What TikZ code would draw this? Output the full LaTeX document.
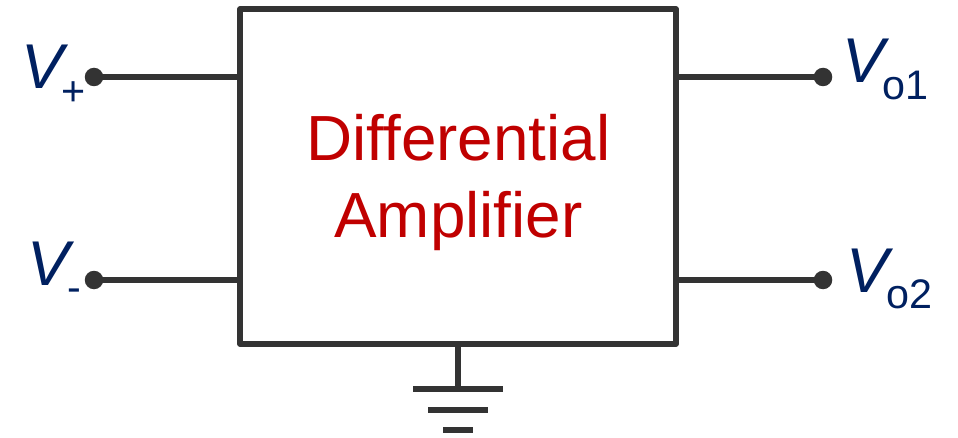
\documentclass[tikz,border=0pt]{standalone}
\usepackage{fontspec}
\setmainfont{Liberation Sans}
\usepackage{xcolor}
\usetikzlibrary{positioning,calc}
\definecolor{wirec}{HTML}{333333}
\definecolor{labelc}{HTML}{002060}
\definecolor{titlec}{HTML}{C00000}
\newcommand{\vlabel}[1]{\textit{V}\kern-3.7pt\raisebox{-9.5pt}{\fontsize{23.5}{24}\selectfont #1}}
\begin{document}
\begin{tikzpicture}[
  wire/.style={draw=wirec,line width=3.1pt},
  pin/.style={circle,fill=wirec,inner sep=0pt,minimum size=0.37cm},
  lab/.style={anchor=base west,inner sep=0pt,text=labelc,font=\fontsize{36}{36}\selectfont}]
  \useasboundingbox (0,0) rectangle (19.16,8.74);
  \node[wire,line join=round,minimum width=8.72cm,minimum height=6.7cm,inner sep=0pt](amp)at(9.16,5.21){};
  \node[align=center,inner sep=0pt,text=titlec,font=\fontsize{36.3}{43.7}\selectfont](title)at(9.17,5.09){Differential\\Amplifier};
  \node[pin](vp)at(1.88,7.2){};\node[pin](vm)at(1.88,3.14){};
  \node[pin](vo1)at(16.46,7.2){};\node[pin](vo2)at(16.46,3.14){};
  \draw[wire](vp.center)--($(vp-|amp.west)+(0.08,0)$);\draw[wire](vm.center)--($(vm-|amp.west)+(0.08,0)$);
  \draw[wire](amp.east|-vo1)--(vo1.center);\draw[wire](amp.east|-vo2)--(vo2.center);
  \node[lab](lp)at(0.42,6.96){\vlabel{+}};
  \node[lab](lm)at(0.54,3.04){\vlabel{-}};
  \node[lab](lo1)at(16.84,7.08){\vlabel{o1}};
  \node[lab](lo2)at(16.92,2.9){\vlabel{o2}};
  % ground
  \coordinate(g0)at(9.16,0.96);
  \draw[wire](amp.south)--(g0);
  \coordinate(g1a)at(8.26,0.96);\coordinate(g1b)at(10.06,0.96);
  \coordinate(g2a)at(8.56,0.54);\coordinate(g2b)at(9.76,0.54);
  \coordinate(g3a)at(8.86,0.14);\coordinate(g3b)at(9.46,0.14);
  \draw[wire](g1a)--(g1b);\draw[wire](g2a)--(g2b);\draw[wire](g3a)--(g3b);
\end{tikzpicture}
\end{document}
